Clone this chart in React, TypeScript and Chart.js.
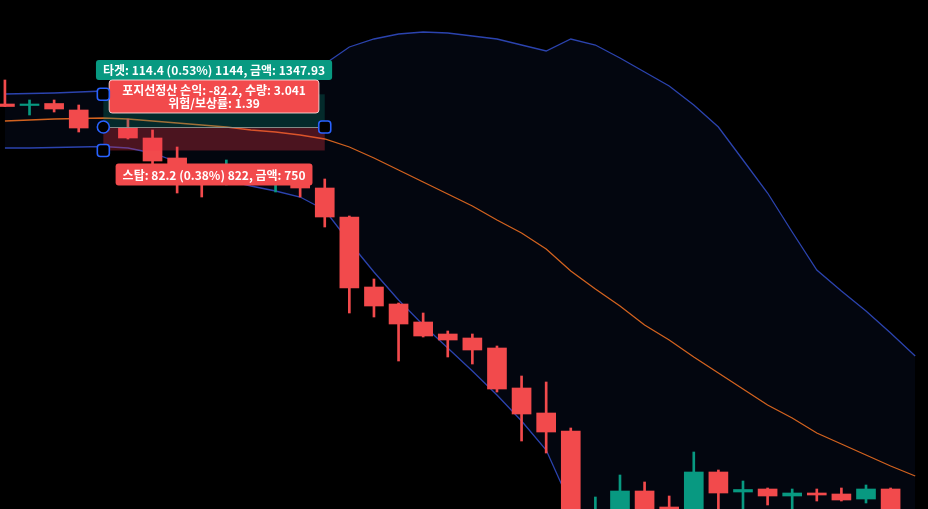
import { useEffect, useRef } from "react";
import { Chart, registerables } from "chart.js";

Chart.register(...registerables);

// ---- candle data (index 0..36, null = bar hidden under the tool handle) ----
const opens: (number | null)[] = [21680.5, 21675.25, 21682.25, 21659.5, null, 21596.5, 21561.5, 21491.5, 21449.5, 21414.5, 21439, 21407.5, 21428.5, 21386.5, 21285, 21040, 20980.5, 20917.5, 20875.5, 20861.5, 20826.5, 20686.5, 20599, 20536, 20154.5, 20224.5, 20326, 20270, 20252.5, 20392.5, 20322.5, 20333, 20308.5, 20319, 20315.5, 20298, 20333];
const closes: (number | null)[] = [21671.75, 21678.75, 21663, 21596.5, null, 21561.5, 21481, 21428.5, 21411, 21442.5, 21421.5, 21428.5, 21386.5, 21285, 21036.5, 20973.5, 20910.5, 20868.5, 20854.5, 20819.5, 20683, 20595.5, 20532.5, 20207, 20242, 20326, 20242, 20242, 20392.5, 20319, 20331.25, 20308.5, 20319, 20312, 20294.5, 20333, 20224.5];
const highs: (number | null)[] = [21764.5, 21694.5, 21694.5, 21677, null, 21628, 21589.5, 21530, 21467, 21484.5, 21456.5, 21449.5, 21456.5, 21418, 21288.5, 21068, 20984, 20949, 20886, 20875.5, 20833.5, 20728.5, 20707.5, 20546.5, 20305, 20382, 20357.5, 20308.5, 20462.5, 20399.5, 20361, 20336.5, 20333, 20333, 20336.5, 20347, 20336.5];
const lows: (number | null)[] = [21671.75, 21642, 21652.5, 21582.5, null, 21558, 21463.5, 21369, 21355, 21397, 21404, 21372.5, 21355, 21250, 20949, 20935, 20781, 20865, 20795, 20770.5, 20672.5, 20501, 20459, 20172, 20119.5, 20207, 20224.5, 20224.5, 20231.5, 20252.5, 20252.5, 20277, 20252.5, 20291, 20291, 20284, 20207];

// ---- Bollinger bands (index 0..37) ----
const bbUpper = [21715.5, 21717.25, 21719, 21722.5, 21726, 21727.75, 21729.5, 21731.25, 21733, 21734.75, 21736.5, 21743.5, 21768, 21820.5, 21880, 21908, 21925.5, 21932.5, 21929, 21918.5, 21908, 21887, 21866, 21908, 21887, 21841.5, 21792.5, 21743.5, 21677, 21600, 21484.5, 21369, 21232.5, 21099.5, 21026, 20956, 20879, 20798.5];
const bbBasis = [21621, 21624.5, 21628, 21629.75, 21631.5, 21628, 21621, 21614, 21607, 21600, 21589.5, 21582.5, 21572, 21558, 21530, 21491.5, 21449.5, 21407.5, 21365.5, 21323.5, 21274.5, 21229, 21173, 21096, 21033, 20973.5, 20907, 20854.5, 20795, 20739, 20683, 20627, 20581.5, 20529, 20490.5, 20452, 20413.5, 20378.5];
const bbLower = [21526.5, 21526.5, 21528.25, 21530, 21531.75, 21526.5, 21509, 21477.5, 21442.5, 21414.5, 21393.5, 21376, 21355, 21309.5, 21197.5, 21092.5, 20994.5, 20907, 20826.5, 20746, 20662, 20571, 20469.5, 20277, 20179, 20105.5, 20021.5, 19965.5, 19913, 19878, 19881.5, 19885, 19927, 19958.5, 19955, 19948, 19951.5, 19958.5];

// ---- position tool ----
const POS_START = 4;
const POS_END = 13;
const ENTRY = 21600;
const TARGET = 21714.4;
const STOP = 21517.8;
const TARGET_LABEL = "타겟: 114.4 (0.53%) 1144, 금액: 1347.93";
const PNL_LABEL = ["포지선정산 손익: -82.2, 수량: 3.041", "위험/보상률: 1.39"];
const STOP_LABEL = "스탑: 82.2 (0.38%) 822, 금액: 750";

// ---- visible range ----
const X_MIN = -0.2;
const X_MAX = 37.52;
const Y_MIN = 20263;
const Y_MAX = 22044.5;

const UP = "#089981";
const DOWN = "#f24a4c";
const BAND = "#2b43ae";
const BASIS = "#d2621f";
const FONT = 'bold 12px "Noto Sans CJK KR", "Noto Sans", sans-serif';

function drawLabel(ctx: CanvasRenderingContext2D, cx: number, top: number, h: number, pad: number, lines: string[], bg: string, border?: string) {
  ctx.font = FONT;
  let w = 0;
  lines.forEach((l) => (w = Math.max(w, ctx.measureText(l).width)));
  w += pad * 2;
  ctx.beginPath();
  ctx.roundRect(cx - w / 2, top, w, h, 3);
  ctx.fillStyle = bg;
  ctx.fill();
  if (border) {
    ctx.lineWidth = 1;
    ctx.strokeStyle = border;
    ctx.stroke();
  }
  ctx.fillStyle = "#ffffff";
  ctx.textAlign = "center";
  ctx.textBaseline = "middle";
  const lh = 12.5;
  const start = top + h / 2 - ((lines.length - 1) * lh) / 2;
  lines.forEach((l, i) => ctx.fillText(l, cx, start + i * lh + 0.5));
}

function squareHandle(ctx: CanvasRenderingContext2D, x: number, y: number) {
  ctx.beginPath();
  ctx.roundRect(x - 6, y - 6, 12, 12, 3);
  ctx.fillStyle = "#000";
  ctx.fill();
  ctx.lineWidth = 1.6;
  ctx.strokeStyle = "#2962ff";
  ctx.stroke();
}

const positionTool = {
  id: "positionTool",
  afterDatasetsDraw(chart: any) {
    const { ctx } = chart;
    const xs = chart.scales.x;
    const ys = chart.scales.y;
    const x0 = xs.getPixelForValue(POS_START);
    const x1 = xs.getPixelForValue(POS_END);
    const yT = ys.getPixelForValue(TARGET);
    const yE = ys.getPixelForValue(ENTRY);
    const yS = ys.getPixelForValue(STOP);
    ctx.save();
    ctx.fillStyle = "rgba(8,153,129,0.25)";
    ctx.fillRect(x0, yT, x1 - x0, yE - yT);
    ctx.fillStyle = "rgba(242,54,69,0.3)";
    ctx.fillRect(x0, yE, x1 - x0, yS - yE);
    ctx.beginPath();
    ctx.moveTo(x0, yE + 0.5);
    ctx.lineTo(x1, yE + 0.5);
    ctx.lineWidth = 1;
    ctx.strokeStyle = "rgba(140,160,155,0.85)";
    ctx.stroke();
    const cx = (x0 + x1) / 2;
    drawLabel(ctx, cx, yT - 34.3, 20, 7, [TARGET_LABEL], UP);
    drawLabel(ctx, cx, yT - 14.3, 33, 13, PNL_LABEL, DOWN, "rgba(255,225,225,0.85)");
    drawLabel(ctx, cx, yS + 13, 22, 7, [STOP_LABEL], DOWN);
    squareHandle(ctx, x0, yT);
    squareHandle(ctx, x0, yS);
    squareHandle(ctx, x1, yE);
    ctx.beginPath();
    ctx.arc(x0, yE, 6, 0, Math.PI * 2);
    ctx.fillStyle = "#000";
    ctx.fill();
    ctx.lineWidth = 1.6;
    ctx.strokeStyle = "#2962ff";
    ctx.stroke();
    ctx.restore();
  },
};

export default function App() {
  const ref = useRef<HTMLCanvasElement | null>(null);
  useEffect(() => {
    if (!ref.current) return;
    const bodies: any[] = [];
    const wicks: any[] = [];
    const colors: string[] = [];
    opens.forEach((o, i) => {
      const c = closes[i];
      const h = highs[i];
      const l = lows[i];
      if (o === null || c === null || h === null || l === null) return;
      bodies.push({ x: i, y: [o, c] });
      wicks.push({ x: i, y: [l, h] });
      colors.push(c >= o ? UP : DOWN);
    });
    const line = (arr: number[]) => arr.map((v, i) => ({ x: i, y: v }));
    const chart = new Chart(ref.current, {
      type: "bar",
      data: {
        datasets: [
          { type: "bar", label: "body", data: bodies, backgroundColor: colors, grouped: false, barThickness: 19, maxBarThickness: 19, minBarLength: 1.5, borderWidth: 0, order: 0 } as any,
          { type: "bar", label: "wick", data: wicks, backgroundColor: colors, grouped: false, barThickness: 2, maxBarThickness: 2, borderWidth: 0, order: 1 } as any,
          { type: "line", label: "basis", data: line(bbBasis), borderColor: BASIS, borderWidth: 1.3, pointRadius: 0, tension: 0, fill: false, order: 2 },
          { type: "line", label: "upper", data: line(bbUpper), borderColor: BAND, borderWidth: 1.3, pointRadius: 0, tension: 0, fill: "+1", backgroundColor: "rgba(40,80,210,0.07)", order: 3 },
          { type: "line", label: "lower", data: line(bbLower), borderColor: BAND, borderWidth: 1.3, pointRadius: 0, tension: 0, fill: false, order: 4 },
        ],
      },
      options: {
        animation: false,
        responsive: true,
        maintainAspectRatio: false,
        events: [],
        layout: { padding: 0 },
        plugins: {
          legend: { display: false },
          tooltip: { enabled: false },
          filler: { drawTime: "beforeDatasetsDraw" },
        } as any,
        scales: {
          x: { type: "linear", min: X_MIN, max: X_MAX, display: false, offset: false },
          y: { type: "linear", min: Y_MIN, max: Y_MAX, display: false },
        },
      },
      plugins: [positionTool],
    });
    return () => chart.destroy();
  }, []);
  return (
    <div style={{ position: "fixed", left: 0, top: 0, width: 928, height: 509, background: "#000" }}>
      <canvas ref={ref} />
    </div>
  );
}
